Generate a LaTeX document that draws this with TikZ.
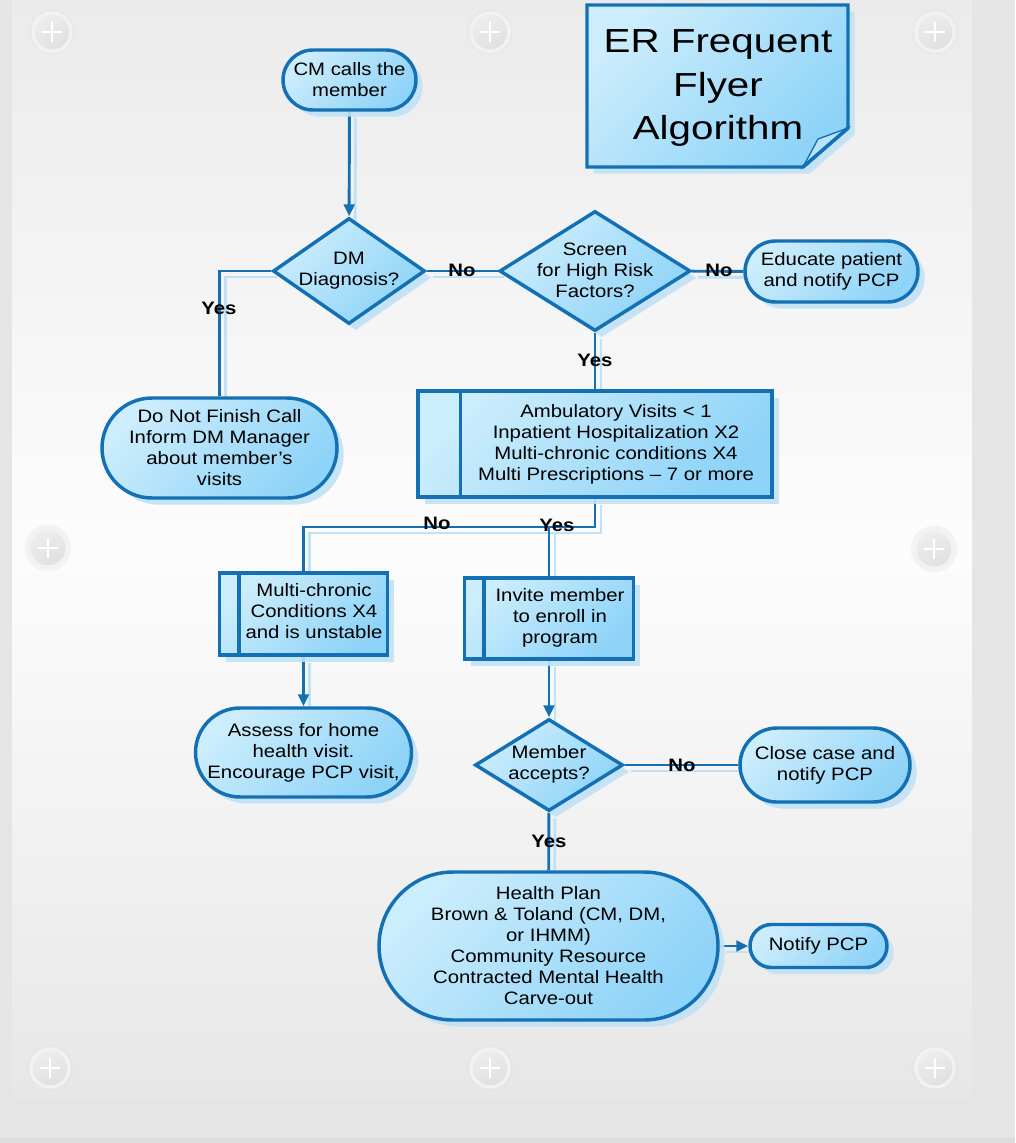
\documentclass[tikz,border=0pt]{standalone}
\usepackage{fontspec}
\setmainfont[FakeStretch=1.13]{Liberation Sans}
\newfontfamily\titlefont[FakeStretch=1.21]{Liberation Sans}
\usetikzlibrary{shapes.geometric,shadows,arrows.meta,calc}
\definecolor{bord}{RGB}{20,112,180}
\definecolor{fillA}{RGB}{204,237,252}
\definecolor{fillB}{RGB}{142,211,248}
\definecolor{shad}{RGB}{192,226,245}
\definecolor{pageout}{RGB}{229,229,229}
\definecolor{paneltop}{RGB}{235,235,235}
\definecolor{panelbot}{RGB}{231,231,231}
\definecolor{foldc}{RGB}{184,228,250}
\pgfdeclarelayer{bgl}
\pgfdeclarelayer{lines}
\pgfsetlayers{bgl,lines,main}
\tikzset{
  box/.style={draw=bord, line width=2.6pt, top color=fillA, bottom color=fillB, shading angle=45,
    drop shadow={shadow xshift=5pt, shadow yshift=-5pt, fill=shad, opacity=0.9}, inner sep=0pt},
  term/.style={box, rectangle, rounded corners=#1},
  dia/.style={box, diamond},
  procbox/.style={box, rectangle},
  txt/.style={align=center, font=\fontsize{13.5pt}{15.75pt}\selectfont, inner sep=0pt, text=black},
  lbl/.style={font=\bfseries\fontsize{13.5pt}{15.75pt}\selectfont, inner sep=0pt},
  conn/.style={draw=bord, line width=2.2pt},
  arr/.style={conn, -{Triangle[length=9pt,width=8pt]}},
  barline/.style={draw=bord, line width=2.6pt},
}
\newcommand\allconns{%
  \draw[arr] (cm) -- (dm);
  \draw[conn] (dm) -- (scr);
  \draw[conn] (scr) -- (edu);
  \draw[conn] (dm.west) -| (dnf.north);
  \draw[conn] (scr) -- (proc);
  \draw[conn] (proc.south) -- (jn) -| (mc.north);
  \draw[conn] (jy) -- (inv.north);
  \draw[arr] (mc) -- (ass);
  \draw[arr] (inv) -- (ma);
  \draw[conn] (ma) -- (cc);
  \draw[conn] (ma) -- (hp);
  \draw[arr] (hp) -- (np);
}
\begin{document}
\begin{tikzpicture}[x=0.75pt, y=-0.75pt]
\useasboundingbox (0,0) rectangle (1015,1143);
\begin{pgfonlayer}{bgl}
  \fill[pageout] (0,0) rectangle (1015,1143);
  \shade[top color=paneltop, bottom color=panelbot, middle color=white!99!black] (12,0) rectangle (972,1098);
  \fill[pageout!96!black] (0,1138) rectangle (1015,1143);
  \foreach \px/\py in {52/32, 490/32, 935/32, 48/548, 934/549, 50/1068, 490/1068, 935/1068} {
    \fill[white!90!black, opacity=0.35] (\px,\py) circle (17.5pt);
    \fill[white!95!black] (\px,\py) circle (15.5pt);
    \shade[top color=white!93!black, bottom color=white!88!black, shading angle=30] (\px,\py) circle (13pt);
    \draw[white, line width=1.2pt] (\px-10,\py) -- (\px+10,\py) (\px,\py-10) -- (\px,\py+10);
  }
\end{pgfonlayer}

% title
\path[box] (587,5) -- (848,5) -- (848,128) -- (803,167) -- (587,167) -- cycle;
\filldraw[fill=foldc, draw=bord, line width=1pt] (848,128) -- (803,167) -- (818,139) -- cycle;
\draw[bord, line width=2.6pt] (848,128) -- (803,167);
\node[font=\titlefont\fontsize{25pt}{32.6pt}\selectfont, align=center, inner sep=0pt] (title) at (718,88) {ER Frequent\\Flyer\\Algorithm};

% nodes
\node[term=22.5pt, txt, minimum width=99.75pt, minimum height=45pt] (cm) at (349.5,80) {CM calls the\\member};
\node[dia, minimum width=114pt, minimum height=79.5pt] (dm) at (349,271) {};
\node[txt] (dmt) at (349,270.5) {DM\\Diagnosis?};
\node[dia, minimum width=143.25pt, minimum height=90pt] (scr) at (595,271) {};
\node[txt] (scrt) at (595,270) {Screen\\for High Risk\\Factors?};
\node[term=22.9pt, txt, minimum width=129.75pt, minimum height=45.75pt] (edu) at (831.5,271.5) {Educate patient\\and notify PCP};
\node[term=37.5pt, txt, minimum width=176.25pt, minimum height=75pt] (dnf) at (219.5,448) {Do Not Finish Call\\Inform DM Manager\\about member’s\\visits};
\node[procbox, minimum width=265.5pt, minimum height=79.5pt] (proc) at (595,444) {};
\draw[barline] ([xshift=33pt]proc.north west) -- ([xshift=33pt]proc.south west);
\node[txt] (proct) at (616,444) {Ambulatory Visits < 1\\Inpatient Hospitalization X2\\Multi-chronic conditions X4\\Multi Prescriptions – 7 or more};
\node[procbox, minimum width=126pt, minimum height=61.5pt] (mc) at (303.5,614) {};
\draw[barline] ([xshift=15.75pt]mc.north west) -- ([xshift=15.75pt]mc.south west);
\node[txt] (mct) at (314,611.5) {Multi-chronic\\Conditions X4\\and is unstable};
\node[procbox, minimum width=126.75pt, minimum height=60.75pt] (inv) at (549,618.5) {};
\draw[barline] ([xshift=15.75pt]inv.north west) -- ([xshift=15.75pt]inv.south west);
\node[txt] (invt) at (560,617.5) {Invite member\\to enroll in\\program};
\node[term=33.4pt, txt, minimum width=162pt, minimum height=66.75pt] (ass) at (303.5,752.5) {Assess for home\\health visit.\\Encourage PCP visit,};
\node[dia, minimum width=111pt, minimum height=69pt] (ma) at (549,765) {};
\node[txt] (mat) at (549,764.5) {Member\\accepts?};
\node[term=27.75pt, txt, minimum width=127.5pt, minimum height=55.5pt] (cc) at (825,765) {Close case and\\notify PCP};
\node[term=55.5pt, txt, minimum width=254.25pt, minimum height=111pt] (hp) at (548.5,946) {Health Plan\\Brown \& Toland (CM, DM,\\or IHMM)\\Community Resource\\Contracted Mental Health\\Carve-out};
\node[term=16.1pt, txt, minimum width=102.75pt, minimum height=32.25pt] (np) at (818.5,946) {Notify PCP};

\coordinate (jn) at (595,527);
\coordinate (jy) at (549,527);

% connectors
\begin{pgfonlayer}{lines}
  \begin{scope}[transform canvas={shift={(4.5pt,-4.5pt)}}, conn/.style={draw=shad, line width=2.2pt}, arr/.style={conn}]
    \allconns
  \end{scope}
  \allconns
\end{pgfonlayer}

% labels
\node[lbl] (l1) at (462,270) {No};
\node[lbl] (l2) at (719,270) {No};
\node[lbl] (l3) at (219,308) {Yes};
\node[lbl] (l4) at (595,360) {Yes};
\node[lbl] (l5) at (437,523) {No};
\node[lbl] (l6) at (557,525) {Yes};
\node[lbl] (l7) at (682,765) {No};
\node[lbl] (l8) at (549,841) {Yes};
\end{tikzpicture}
\end{document}
